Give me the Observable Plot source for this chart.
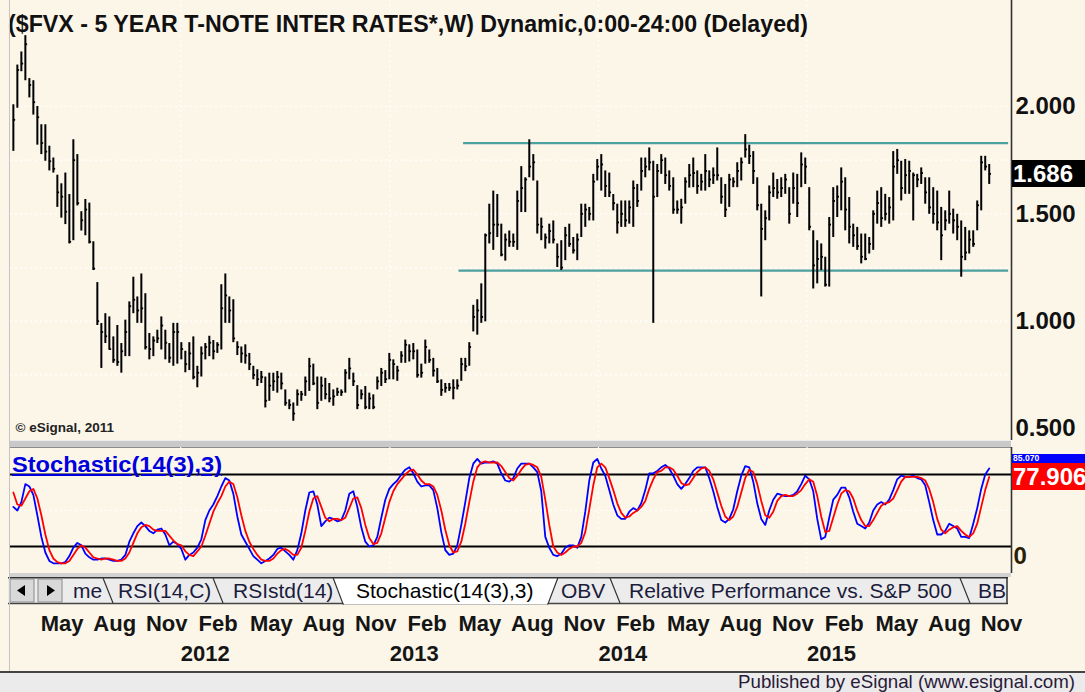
<!DOCTYPE html>
<html><head><meta charset="utf-8">
<script src="https://cdn.jsdelivr.net/npm/d3@7"></script>
<script src="https://cdn.jsdelivr.net/npm/@observablehq/plot@0.6"></script>
<style>
body{margin:0;width:1085px;height:692px;position:relative;overflow:hidden;background:#fcf6e9;font-family:"Liberation Sans",Arial,sans-serif;}
.abs{position:absolute}
</style></head><body>
<div id="price" class="abs" style="left:0;top:0"></div>
<div id="title" class="abs" style="left:8px;top:11px;font-weight:bold;font-size:23px;color:#111;white-space:nowrap;transform-origin:0 0">($FVX - 5 YEAR T-NOTE INTER RATES*,W) Dynamic,0:00-24:00 (Delayed)</div>
<div class="abs" style="left:9px;top:440px;width:1002px;height:6px;background:#c9c9c9;border-top:1px solid #ededed;border-bottom:1px solid #8c8c8c"></div>
<div id="stoch" class="abs" style="left:0;top:447px"></div>
<div id="stochLabel" class="abs" style="left:12px;top:452px;font-weight:bold;font-size:22px;color:#0000dd;text-decoration:underline;white-space:nowrap;transform-origin:0 0">Stochastic(14(3),3)</div>
<div class="abs" style="left:9px;top:573px;width:1002px;height:4px;background:#d2d2d2"></div>
<div id="tabs" class="abs" style="left:8px;top:577px"></div>
<div id="dates" class="abs" style="left:0;top:604px"></div>
<div class="abs" style="left:0;top:671px;width:1085px;height:2px;background:#444"></div>
<div class="abs" style="left:0;top:673px;width:1085px;height:19px;background:#ebebeb"></div>
<div id="footer" class="abs" style="left:738px;top:671px;font-size:18.5px;color:#2a1a38;white-space:nowrap;transform-origin:0 0">Published by eSignal (www.esignal.com)</div>
<div class="abs" style="left:9px;top:0;width:1px;height:671px;background:#c4c4c4"></div>
<script>
// ---------------- DATA ----------------
const firstWeek = "2011-03-14";   // first weekly bar
const highs = [2.008,2.193,2.254,2.33,2.13,2.12,2.00,1.915,1.915,1.815,
1.76,1.68,1.64,1.69,1.59,1.845,1.776,1.51,1.567,1.55,
1.37,1.18,0.989,1.035,1.02,0.927,0.98,0.896,1.005,1.09,
1.205,1.113,1.22,1.128,0.943,0.927,0.958,1.02,0.958,0.896,
0.99,0.99,0.90,0.86,0.90,0.927,0.79,0.88,0.896,0.93,
0.91,0.90,1.17,1.22,1.113,1.10,0.904,0.88,0.89,0.85,
0.79,0.774,0.766,0.74,0.758,0.758,0.766,0.758,0.68,0.634,
0.619,0.68,0.673,0.74,0.827,0.80,0.74,0.74,0.734,0.71,
0.68,0.688,0.68,0.774,0.827,0.758,0.70,0.68,0.696,0.665,
0.657,0.74,0.78,0.77,0.85,0.82,0.79,0.858,0.912,0.89,
0.896,0.866,0.80,0.912,0.866,0.827,0.78,0.727,0.71,0.71,
0.727,0.727,0.827,0.827,0.90,1.074,1.10,1.174,1.406,1.545,
1.606,1.59,1.452,1.406,1.42,1.406,1.606,1.72,1.668,1.845,
1.776,1.653,1.48,1.406,1.452,1.467,1.36,1.375,1.437,1.452,
1.39,1.406,1.545,1.545,1.53,1.684,1.753,1.776,1.70,1.69,
1.59,1.545,1.56,1.56,1.56,1.653,1.637,1.76,1.76,1.807,
1.745,1.73,1.776,1.76,1.70,1.668,1.56,1.568,1.668,1.73,
1.76,1.70,1.684,1.776,1.70,1.714,1.807,1.668,1.637,1.684,
1.668,1.738,1.76,1.869,1.82,1.79,1.668,1.545,1.514,1.63,
1.69,1.66,1.668,1.684,1.622,1.69,1.684,1.784,1.76,1.622,
1.421,1.375,1.36,1.298,1.483,1.622,1.63,1.714,1.668,1.576,
1.452,1.437,1.406,1.406,1.39,1.514,1.606,1.622,1.591,1.576,
1.79,1.80,1.745,1.753,1.745,1.69,1.684,1.714,1.668,1.668,
1.622,1.606,1.53,1.514,1.606,1.522,1.498,1.467,1.437,1.421,
1.421,1.56,1.768,1.768,1.73];
const lows = [1.791,1.992,2.162,2.12,2.04,1.96,1.82,1.776,1.745,1.70,
1.69,1.53,1.48,1.45,1.36,1.375,1.537,1.42,1.398,1.36,
1.236,0.98,0.78,0.896,0.866,0.804,0.79,0.758,0.835,0.835,
1.035,0.99,0.99,0.866,0.82,0.835,0.896,0.866,0.82,0.804,
0.79,0.80,0.82,0.76,0.77,0.727,0.69,0.74,0.82,0.835,
0.82,0.85,0.866,0.99,0.99,0.90,0.84,0.804,0.80,0.77,
0.727,0.696,0.71,0.596,0.627,0.673,0.665,0.68,0.604,0.588,
0.534,0.604,0.627,0.65,0.673,0.70,0.588,0.627,0.634,0.62,
0.604,0.65,0.65,0.665,0.727,0.696,0.588,0.634,0.588,0.588,
0.588,0.68,0.696,0.71,0.727,0.727,0.72,0.804,0.804,0.81,
0.82,0.735,0.735,0.80,0.804,0.74,0.71,0.65,0.665,0.673,
0.634,0.68,0.72,0.765,0.79,0.95,0.935,0.99,0.997,1.36,
1.33,1.39,1.30,1.28,1.344,1.344,1.33,1.506,1.506,1.668,
1.653,1.406,1.375,1.336,1.36,1.36,1.25,1.236,1.282,1.344,
1.313,1.282,1.39,1.437,1.467,1.467,1.653,1.606,1.576,1.576,
1.514,1.406,1.437,1.437,1.452,1.437,1.53,1.606,1.668,1.70,
0.99,1.576,1.684,1.637,1.606,1.498,1.498,1.452,1.545,1.62,
1.622,1.591,1.606,1.606,1.622,1.637,1.653,1.545,1.483,1.53,
1.622,1.622,1.653,1.76,1.73,1.637,1.514,1.113,1.375,1.467,
1.576,1.568,1.576,1.591,1.452,1.545,1.483,1.622,1.637,1.421,
1.15,1.174,1.236,1.159,1.159,1.39,1.483,1.514,1.421,1.36,
1.344,1.33,1.267,1.282,1.313,1.33,1.452,1.437,1.467,1.452,
1.467,1.684,1.56,1.591,1.591,1.467,1.622,1.637,1.545,1.498,
1.452,1.421,1.282,1.421,1.452,1.406,1.375,1.205,1.282,1.313,
1.344,1.421,1.514,1.70,1.637];
const closes = [1.938,2.17,2.20,2.29,2.10,2.02,1.95,1.83,1.79,1.745,
1.71,1.60,1.58,1.51,1.37,1.75,1.55,1.47,1.52,1.37,
1.245,1.00,0.95,0.93,0.87,0.82,0.81,0.86,0.95,1.07,
1.10,1.05,1.06,0.88,0.87,0.91,0.92,0.98,0.90,0.83,
0.95,0.95,0.87,0.80,0.85,0.74,0.76,0.85,0.88,0.90,
0.86,0.89,1.06,1.12,1.05,0.92,0.88,0.85,0.84,0.80,
0.75,0.73,0.74,0.63,0.70,0.72,0.74,0.71,0.62,0.61,
0.57,0.66,0.66,0.72,0.79,0.71,0.62,0.70,0.66,0.64,
0.65,0.67,0.67,0.76,0.78,0.72,0.61,0.66,0.60,0.64,
0.60,0.72,0.76,0.73,0.82,0.80,0.77,0.84,0.89,0.86,
0.86,0.75,0.76,0.88,0.82,0.77,0.72,0.68,0.69,0.69,
0.69,0.70,0.80,0.79,0.88,1.02,1.05,1.02,1.40,1.41,
1.45,1.45,1.31,1.38,1.37,1.37,1.56,1.62,1.66,1.72,
1.74,1.45,1.44,1.39,1.42,1.38,1.30,1.25,1.40,1.36,
1.33,1.38,1.50,1.52,1.50,1.65,1.72,1.73,1.63,1.60,
1.55,1.46,1.50,1.47,1.53,1.62,1.56,1.70,1.72,1.74,
1.58,1.70,1.75,1.68,1.63,1.52,1.52,1.53,1.65,1.68,
1.69,1.63,1.65,1.70,1.66,1.68,1.68,1.58,1.52,1.66,
1.65,1.70,1.74,1.80,1.77,1.70,1.54,1.43,1.48,1.60,
1.62,1.60,1.62,1.66,1.50,1.62,1.55,1.73,1.72,1.44,
1.26,1.29,1.30,1.17,1.45,1.56,1.58,1.65,1.52,1.44,
1.40,1.35,1.30,1.29,1.36,1.50,1.55,1.48,1.50,1.53,
1.72,1.75,1.62,1.68,1.70,1.68,1.66,1.69,1.60,1.53,
1.50,1.46,1.40,1.47,1.50,1.47,1.44,1.30,1.32,1.38,
1.36,1.54,1.74,1.72,1.686];
// Stochastic(14(3),3): %K (blue) and %D (red)
const stochK = [53,50,57,72,70,63,46,28,15,8, 6,6,6,7,12,19,23,21,14,11,
9,9,10,10,9,8,8,9,13,24, 31,37,40,37,33,31,34,35,30,21,
24,22,18,9,13,15,19,26,42,50, 55,62,70,77,75,64,45,30,24,18,
12,9,6,8,10,13,18,19,16,13, 9,17,31,50,65,66,55,37,41,44,
43,41,42,50,64,66,53,36,24,20, 21,28,44,59,68,72,75,80,84,86,
81,74,70,71,71,67,52,32,17,13, 14,21,38,57,77,89,93,89,90,90,
91,89,81,75,74,77,85,89,89,89, 86,82,66,28,19,13,12,14,19,21,
21,19,28,49,75,90,93,85,79,67, 55,46,43,43,49,52,50,56,67,81,
81,83,86,88,85,79,72,68,72,77, 83,86,86,86,77,66,53,42,40,43,
51,66,79,87,86,74,56,43,38,50, 59,64,63,62,62,63,66,72,79,76,
66,43,26,28,44,59,63,69,69,61, 49,39,37,35,40,50,55,57,55,59,
67,76,79,78,78,79,77,76,71,57, 42,30,30,33,39,37,35,28,28,27,
39,52,68,80,85.07];
const stochD = [65,55,54,60,66,68,60,46,30,17, 10,7,6,6,8,13,18,21,19,15,
11,10,9,10,10,9,8,8,10,15, 23,31,36,38,37,34,33,33,33,29,
25,22,21,16,13,12,16,20,29,39, 49,56,62,70,74,72,61,46,33,24,
18,13,9,8,8,10,14,17,18,16, 13,13,19,33,49,60,62,53,44,41,
43,43,42,44,52,60,61,52,38,27, 22,23,31,44,57,66,72,76,80,83,
84,80,75,72,72,70,63,50,34,21, 15,16,24,39,57,74,86,90,91,90,
90,90,87,82,77,75,79,84,88,89, 88,86,78,59,38,20,15,13,15,18,
20,20,23,32,51,71,86,89,86,77, 67,56,48,44,45,48,50,53,58,68,
76,82,83,86,86,84,79,73,71,72, 77,82,85,86,83,76,65,54,45,42,
45,53,65,77,84,82,72,58,46,44, 49,58,62,63,62,62,64,67,72,76,
74,62,45,32,33,44,55,64,67,66, 60,50,42,37,37,42,48,54,56,57,
60,67,74,78,78,78,78,77,75,68, 57,43,34,31,34,36,37,33,30,28,
31,39,53,67,77.906];
const priceTicks = [0.5, 1.0, 1.5, 2.0];
const priceGrid = [0.75, 1.0, 1.25, 1.5, 1.75, 2.0];
const stochLevels = [20, 80];
const channelLevels = [1.829, 1.236];
const channelStarts = ["2013-05-10", "2013-05-02"];
const channelEnds = ["2015-12-20", "2015-12-20"];
const monthTicks = ["2011-05-01","2011-08-01","2011-11-01","2012-02-01","2012-05-01","2012-08-01","2012-11-01",
"2013-02-01","2013-05-01","2013-08-01","2013-11-01","2014-02-01","2014-05-01","2014-08-01","2014-11-01",
"2015-02-01","2015-05-01","2015-08-01","2015-11-01"];
const monthLabels = ["May","Aug","Nov","Feb","May","Aug","Nov","Feb","May","Aug","Nov","Feb","May","Aug","Nov","Feb","May","Aug","Nov"];
const yearTicks = ["2012-01-01","2013-01-01","2014-01-01","2015-01-01"];
const yearLabels = ["2012","2013","2014","2015"];
const xStart = "2011-03-09", xEnd = "2015-12-25";
const lastPrice = 1.686;

// ---------------- BUILD ----------------
const DAY = 864e5, WEEK = 7*DAY;
const t0 = Date.parse(firstWeek);
const bars = highs.map((h,i)=>({date:new Date(t0 + i*WEEK), high:h, low:lows[i], close:closes[i]}));
const stoch = stochK.map((k,i)=>({date:bars[i].date, k, d:stochD[i]}));
const channel = channelLevels.map((v,i)=>({level:v, from:new Date(channelStarts[i]), to:new Date(channelEnds[i])}));
const xDomain = [new Date(xStart), new Date(xEnd)];
const years = yearTicks.map(d=>new Date(d));
const FONT = "Liberation Sans, Arial, sans-serif";
const common = {width:1085, marginLeft:10, marginRight:74, marginTop:0, marginBottom:0,
  x:{type:"utc", domain:xDomain, axis:null},
  style:{background:"transparent", fontFamily:FONT, overflow:"visible"}};

const pricePlot = Plot.plot({...common, height:440,
  y:{domain:[0.4444, 2.4937], axis:null},
  marks:[
    Plot.ruleY(priceGrid, {stroke:"#ffffff", strokeDasharray:"2,3", strokeWidth:1.2}),
    Plot.ruleX(years, {stroke:"#ffffff", strokeDasharray:"2,3", strokeWidth:1.2}),
    Plot.ruleY(channel, {y:"level", x1:"from", x2:"to", stroke:"#4c9f9f", strokeWidth:2.2}),
    Plot.ruleX(bars, {x:"date", y1:"low", y2:"high", stroke:"#000", strokeWidth:2}),
    Plot.ruleY(bars, {y:"close", x1:"date", x2:d=>new Date(+d.date + 4*DAY), stroke:"#000", strokeWidth:1.8}),
    Plot.ruleX([xDomain[1]], {stroke:"#333", strokeWidth:1.6}),
    Plot.text(priceTicks, {y:d=>d, text:d=>d.toFixed(3), frameAnchor:"right", textAnchor:"start", dx:4,
      fontSize:24, fontWeight:"bold", fill:"#111"}),
    Plot.text(["© eSignal, 2011"], {text:d=>d, frameAnchor:"bottom-left", lineAnchor:"middle", textAnchor:"start",
      dx:5, dy:-13, fontSize:13.5, fontWeight:"bold", fill:"#222"})
  ]});
document.getElementById("price").appendChild(pricePlot);

const stochPlot = Plot.plot({...common, height:126,
  y:{domain:[-2.5, 102.5], axis:null},
  marks:[
    Plot.ruleY([50], {stroke:"#ffffff", strokeDasharray:"2,3", strokeWidth:1.2}),
    Plot.ruleX(years, {stroke:"#ffffff", strokeDasharray:"2,3", strokeWidth:1.2}),
    Plot.ruleY(stochLevels, {stroke:"#000", strokeWidth:1.8}),
    Plot.line(stoch, {x:"date", y:"k", stroke:"#0000ff", strokeWidth:1.8}),
    Plot.line(stoch, {x:"date", y:"d", stroke:"#ff0000", strokeWidth:1.8}),
    Plot.ruleX([xDomain[1]], {stroke:"#333", strokeWidth:1.6}),
    Plot.text([0], {y:d=>d, text:d=>String(d), frameAnchor:"right", textAnchor:"start", dx:2, dy:-14,
      fontSize:24, fontWeight:"bold", fill:"#2a1e05"})
  ]});
document.getElementById("stoch").appendChild(stochPlot);

const datePlot = Plot.plot({...common, height:67,
  marks:[
    Plot.text(monthTicks, {x:d=>new Date(d), text:(d,i)=>monthLabels[i], frameAnchor:"top", lineAnchor:"middle",
      dy:19, textAnchor:"start", fontSize:22, fontWeight:"bold", fill:"#151515"}),
    Plot.text(yearTicks, {x:d=>new Date(d), text:(d,i)=>yearLabels[i], frameAnchor:"top", lineAnchor:"middle",
      dy:49, textAnchor:"start", fontSize:22, fontWeight:"bold", fill:"#151515"})
  ]});
document.getElementById("dates").appendChild(datePlot);

// value boxes on the right axes, positioned with the plots' own scales
function box(top, h, fs, bg, txt, z){
  const d = document.createElement("div");
  d.className = "abs";
  d.style.cssText = `left:1012px;top:${top}px;width:73px;height:${h}px;line-height:${h}px;background:${bg};color:#fff;
    font-weight:bold;font-size:${fs}px;padding-left:1px;overflow:hidden;white-space:nowrap;z-index:${z}`;
  d.textContent = txt;
  document.body.appendChild(d);
}
const py = pricePlot.scale("y").apply(lastPrice);
box(py - 13.5, 27, 24, "#000", lastPrice.toFixed(3), 2);
const sy = stochPlot.scale("y");
const lastK = stochK[stochK.length-1], lastD = stochD[stochD.length-1];
const redTop = 447 + sy.apply(lastD) - 13.5;
const blueTop = 447 + sy.apply(lastK) - 13.5;
// the %K box sits mostly behind the %D box: only its upper strip shows
box(blueTop, redTop - blueTop, Math.max(8, redTop - blueTop), "#0000ff", lastK.toFixed(3), 2);
box(redTop, 27, 24, "#ff0000", lastD.toFixed(3), 3);

// tab strip (UI chrome)
const tabs = [
  {label:"me", x:65}, {label:"RSI(14,C)", x:110}, {label:"RSIstd(14)", x:225},
  {label:"Stochastic(14(3),3)", x:348, active:true}, {label:"OBV", x:553},
  {label:"Relative Performance vs. S&P 500", x:621}, {label:"BB", x:970}];
const seps = [[95,105],[205,215],[602,612],[952,962]];
let s = `<svg width="1000" height="28" xmlns="http://www.w3.org/2000/svg" style="font-family:${FONT};overflow:visible">`;
s += `<rect x="0" y="0" width="1000" height="27" fill="#ececec"/>`;
s += `<line x1="0" y1="26.5" x2="1000" y2="26.5" stroke="#444" stroke-width="1.5"/>`;
s += `<polygon points="325,0.5 550,0.5 540,27 335,27" fill="#ffffff" stroke="#333" stroke-width="1.2"/>`;
s += `<line x1="336" y1="26.5" x2="539" y2="26.5" stroke="#fff" stroke-width="2"/>`;
s += `<line x1="0" y1="0.75" x2="1000" y2="0.75" stroke="#333" stroke-width="1.5"/>`;
for (const [a,b] of seps) s += `<line x1="${a}" y1="1" x2="${b}" y2="26" stroke="#333" stroke-width="1.2"/>`;
s += `<line x1="999" y1="0" x2="999" y2="27" stroke="#333" stroke-width="1.5"/>`;
for (const t of tabs) s += `<text x="${t.x}" y="21" font-size="21" fill="${t.active ? "#000" : "#1b1b3c"}">${t.label.replace("&","&amp;")}</text>`;
s += `<rect x="2" y="2" width="24" height="23" fill="#d9d9d9" stroke="#8a8a8a"/>`;
s += `<rect x="30" y="2" width="24" height="23" fill="#d9d9d9" stroke="#8a8a8a"/>`;
s += `<polygon points="9,13.5 17,8 17,19" fill="#000"/><polygon points="47,13.5 39,8 39,19" fill="#000"/>`;
s += `</svg>`;
document.getElementById("tabs").innerHTML = s;

// fit widths of a few text lines to the reference
function fit(id, w){ const el = document.getElementById(id); const r = el.getBoundingClientRect().width; el.style.transform = `scaleX(${w/r})`; }
fit("title", 800); fit("stochLabel", 210); fit("footer", 337);
</script>
</body></html>
